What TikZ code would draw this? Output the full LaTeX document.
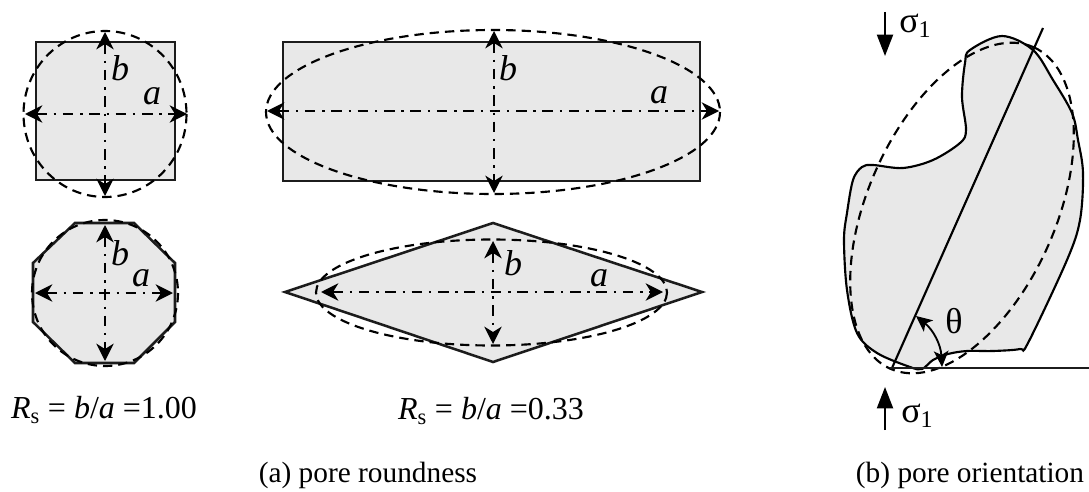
\documentclass[tikz,border=0pt]{standalone}
\usepackage{fontspec}
\setmainfont{Liberation Serif}
\usetikzlibrary{arrows.meta}
\definecolor{poregray}{HTML}{E8E8E8}
\definecolor{inkgray}{HTML}{1C1C1C}
\tikzset{
pore/.style={draw=inkgray,line width=1.9pt,fill=poregray,line join=miter},
fit ellipse/.style={draw=black,line width=1.6pt,dash pattern=on 7pt off 4.5pt},
axis/.style={draw=black,line width=1.3pt,dash pattern=on 8pt off 5pt on 1.8pt off 5pt,{Stealth[length=13pt,width=13pt,inset=4pt]}-{Stealth[length=13pt,width=13pt,inset=4pt]}},
load/.style={draw=black,line width=1.5pt,-{Stealth[length=16pt,width=12pt,inset=0pt]}},
letter/.style={font=\fontsize{27}{30}\selectfont\itshape,inner sep=0pt},
greek/.style={font=\fontsize{27}{30}\selectfont,inner sep=0pt},
ratio/.style={font=\fontsize{24}{28}\selectfont,inner sep=0pt},
caption/.style={font=\fontsize{22}{26}\selectfont,inner sep=0pt}
}
\newcommand{\loadsym}{σ\raisebox{-0.3ex}{\fontsize{18}{20}\selectfont 1}}
\begin{document}
\begin{tikzpicture}[x=0.75pt,y=-0.75pt]
\useasboundingbox (0,0) rectangle (1089,492);
% square
\draw[pore] (36,42) rectangle (175,180);
\draw[fit ellipse] (105,114) ellipse [x radius=81.5,y radius=83];
\coordinate (sqw) at (25,114);
\coordinate (sqe) at (187,114);
\coordinate (sqn) at (105,32);
\coordinate (sqs) at (105,196);
\draw[axis] (sqw) -- (sqe);
\draw[axis] (sqn) -- (sqs);
\node[letter] (asq) at (152,96) {a};
\node[letter] (bsq) at (120,68) {b};
% octagon
\draw[pore] (75,223) -- (134,223) -- (175,263) -- (175,322) -- (134,363) -- (75,363) -- (33,322) -- (33,263) -- cycle;
\draw[fit ellipse] (105,293) circle [radius=73];
\coordinate (octw) at (35,293);
\coordinate (octe) at (173,293);
\coordinate (octn) at (105,225);
\coordinate (octs) at (105,361);
\draw[axis] (octw) -- (octe);
\draw[axis] (octn) -- (octs);
\node[letter] (aoct) at (141,278) {a};
\node[letter] (boct) at (120,253) {b};
% rectangle
\draw[pore] (283,42) rectangle (700,181);
\draw[fit ellipse] (493,112) ellipse [x radius=227,y radius=82];
\coordinate (recw) at (267,111);
\coordinate (rece) at (719,111);
\coordinate (recn) at (494,31);
\coordinate (recs) at (494,193);
\draw[axis] (recw) -- (rece);
\draw[axis] (recn) -- (recs);
\node[letter] (arec) at (659,95) {a};
\node[letter] (brec) at (508,68) {b};
% rhombus
\draw[pore] (285,292) -- (493,223) -- (702,292) -- (493,362) -- cycle;
\draw[fit ellipse] (491.5,292.5) ellipse [x radius=175.5,y radius=53];
\coordinate (rhow) at (321,292);
\coordinate (rhoe) at (663,292);
\coordinate (rhon) at (493,241);
\coordinate (rhos) at (493,344);
\draw[axis] (rhow) -- (rhoe);
\draw[axis] (rhon) -- (rhos);
\node[letter] (arho) at (599,278) {a};
\node[letter] (brho) at (513,263) {b};
% ratios
\node[ratio] (rsround) at (104,410) {\textit{R}\textsubscript{s} = \textit{b}/\textit{a} =1.00};
\node[ratio] (rslong) at (491,411) {\textit{R}\textsubscript{s} = \textit{b}/\textit{a} =0.33};
% pore
\fill[poregray] plot[smooth cycle,tension=0.55] coordinates {(970,50) (1002,36) (1033,50) (1053,80) (1072,113) (1078,140) (1083,173) (1080,220) (1067,260) (1028,343) (1020,349) (993,351) (967,351) (948,354) (933,360) (922,369) (910,367) (877,353) (857,333) (847,290) (844,240) (847,213) (853,180) (862,167) (873,165) (903,168) (933,160) (960,143) (966,130) (962,97) (965,63)};
\draw[fit ellipse] (962,208) ellipse [x radius=176,y radius=94,rotate=66];
\draw[draw=black,line width=1.6pt] plot[smooth cycle,tension=0.55] coordinates {(970,50) (1002,36) (1033,50) (1053,80) (1072,113) (1078,140) (1083,173) (1080,220) (1067,260) (1028,343) (1020,349) (993,351) (967,351) (948,354) (933,360) (922,369) (910,367) (877,353) (857,333) (847,290) (844,240) (847,213) (853,180) (862,167) (873,165) (903,168) (933,160) (960,143) (966,130) (962,97) (965,63)};
\coordinate (base) at (890,368);
\coordinate (tip) at (1043,28);
\coordinate (far) at (1089,368);
\draw[line width=1.6pt] (892,368) -- (tip);
\draw[draw=inkgray,line width=1.7pt] (base) -- (far);
\coordinate (thtop) at (916,316);
\coordinate (thbot) at (942,367);
\draw[line width=1.4pt,{Stealth[length=12pt,width=11pt,inset=3pt]}-{Stealth[length=12pt,width=11pt,inset=3pt]}] (thtop) to[bend left=24] (thbot);
\node[greek] (theta) at (954,321) {θ};
% loads
\coordinate (ltop) at (885,12);
\coordinate (ltoph) at (885,56);
\coordinate (lbot) at (885,430);
\coordinate (lboth) at (885,387);
\draw[load] (ltop) -- (ltoph);
\draw[load] (lbot) -- (lboth);
\node[greek] (sigtop) at (915,26) {\loadsym};
\node[greek] (sigbot) at (917,416) {\loadsym};
% captions
\node[caption] (capa) at (368,475) {(a) pore roundness};
\node[caption] (capb) at (970,475) {(b) pore orientation};
\end{tikzpicture}
\end{document}
